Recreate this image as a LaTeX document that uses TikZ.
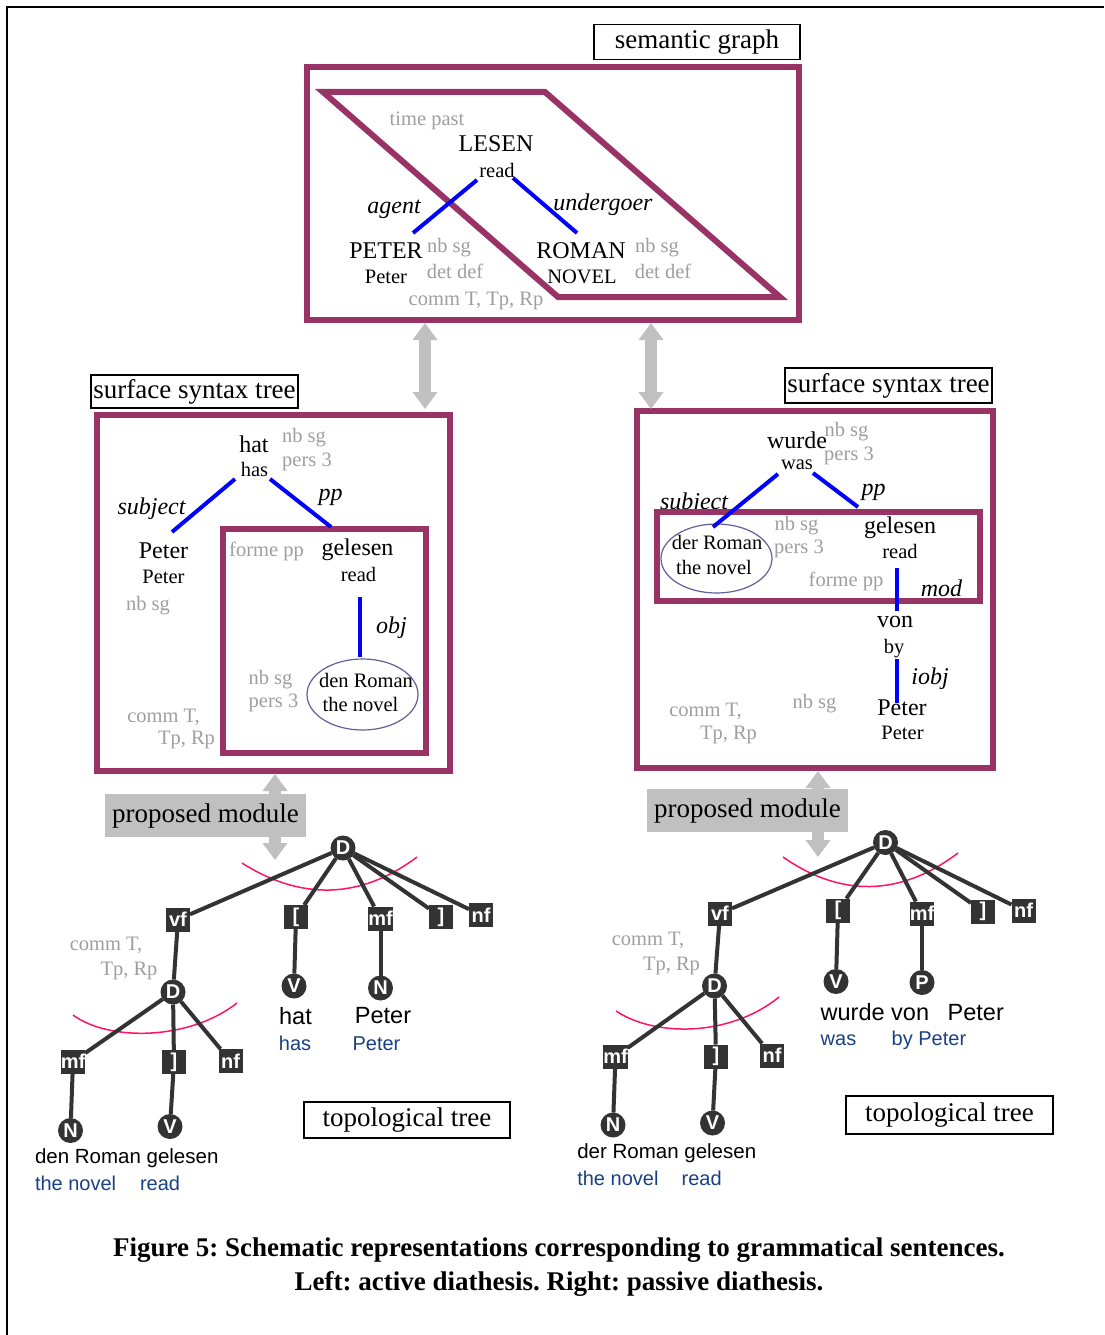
\documentclass[tikz,border=0pt]{standalone}
\usepackage{fontspec}
\setmainfont{Liberation Serif}
\setsansfont{Liberation Sans}
\usetikzlibrary{arrows.meta,shapes.geometric}
\definecolor{semmaroon}{RGB}{153,51,102}
\definecolor{greyc}{RGB}{158,158,158}
\definecolor{arrgrey}{RGB}{192,192,192}
\definecolor{topoc}{RGB}{51,51,51}
\definecolor{arcpink}{RGB}{255,20,100}
\definecolor{glossc}{RGB}{25,65,130}
\definecolor{ellc}{RGB}{95,95,155}
\frenchspacing
\begin{document}
\begin{tikzpicture}[x=1pt,y=-1pt,
  every node/.style={inner sep=0pt,outer sep=0pt},
  bigt/.style={font=\fontsize{24}{24}\selectfont},
  smt/.style={font=\fontsize{20.5}{20.5}\selectfont},
  gt/.style={smt,text=greyc},
  rolet/.style={font=\fontsize{24}{24}\selectfont\itshape},
  lbox/.style={draw,line width=1.8pt,font=\fontsize{27}{27}\selectfont,minimum width=206pt,minimum height=35pt},
  mframe/.style={draw=semmaroon,line width=6pt},
  rel/.style={draw=blue,line width=4pt},
  garrow/.style={line width=12.5pt,draw=arrgrey,{Triangle[width=24pt,length=17pt]}-{Triangle[width=24pt,length=17pt]}},
  modbox/.style={fill=arrgrey,font=\fontsize{27}{27}\selectfont,minimum width=201pt,minimum height=43pt},
  tnode/.style={circle,fill=topoc,text=white,font=\sffamily\bfseries\fontsize{20}{20}\selectfont,minimum size=25pt},
  tsq/.style={rectangle,fill=topoc,text=white,font=\sffamily\bfseries\fontsize{20}{20}\selectfont,minimum size=24pt},
  tedge/.style={draw=topoc,line width=4pt},
  parc/.style={draw=arcpink,line width=1.5pt},
  twb/.style={font=\sffamily\fontsize{23.5}{23.5}\selectfont},
  tws/.style={font=\sffamily\fontsize{20.5}{20.5}\selectfont},
  tg/.style={font=\sffamily\fontsize{20}{20}\selectfont,text=glossc},
  ell/.style={ellipse,draw=ellc,line width=1.2pt},
  capt/.style={font=\fontsize{27}{27}\selectfont\bfseries}
]
\useasboundingbox (0,0) rectangle (1104,1335);
\draw[line width=2pt] (1104,7) -- (7,7) -- (7,1335);

% ---------- semantic graph texts ----------
\node[gt] (tpast) at (427,121) {time past};
\node[bigt] (lesen) at (496,144) {LESEN};
\node[smt] (lesenr) at (497,170) {read};
\node[rolet] (agent) at (394,209) {agent};
\node[rolet] (undg) at (603,205) {undergoer};
\node[bigt] (peterS) at (386,251) {PETER};
\node[smt] (peterSg) at (386,276.5) {Peter};
\node[gt] (pnb) at (449,248) {nb sg};
\node[gt] (pdet) at (455,271) {det def};
\node[bigt] (roman) at (581,251) {ROMAN};
\node[smt] (novel) at (582,276.5) {NOVEL};
\node[gt] (rnb) at (657,248) {nb sg};
\node[gt] (rdet) at (663,271) {det def};
\node[gt] (scomm) at (476,301) {comm T, Tp, Rp};

% ---------- left syntax texts ----------
\node[bigt] (hat) at (254,444) {hat};
\node[smt] (has) at (254.5,469) {has};
\node[gt] (hnb) at (304,437.5) {nb sg};
\node[gt] (hpers) at (307,462) {pers 3};
\node[rolet] (subjL) at (151.5,509) {subject};
\node[rolet] (ppL) at (330.5,497) {pp};
\node[bigt] (peterL) at (163.5,551) {Peter};
\node[smt] (peterLg) at (163.5,576.5) {Peter};
\node[gt] (peterLnb) at (148,605.5) {nb sg};
\node[gt] (formeL) at (266.5,551) {forme pp};
\node[bigt] (gelL) at (357.5,549.5) {gelesen};
\node[smt] (gelLg) at (358.5,574) {read};
\node[rolet] (objL) at (391.5,628) {obj};
\node[gt] (rnbL) at (270.5,679.5) {nb sg};
\node[gt] (rpersL) at (273.5,703) {pers 3};
\node[ell,minimum width=111pt,minimum height=71pt] (ellL) at (362.5,694.5) {};
\node[smt] (romL) at (366,680) {den Roman};
\node[smt] (romLg) at (360.5,704) {the novel};
\node[gt] (commL1) at (163.5,717) {comm T,};
\node[gt] (commL2) at (186.5,740) {Tp, Rp};

% ---------- right syntax texts ----------
\node[bigt] (wurde) at (797,440) {wurde};
\node[smt] (was) at (797,465) {was};
\node[gt] (wnb) at (846.5,432) {nb sg};
\node[gt] (wpers) at (849,455.5) {pers 3};
\node[rolet] (subjR) at (694,504) {subject};
\node[rolet] (ppR) at (873.5,492) {pp};
\node[ell,minimum width=111pt,minimum height=69pt] (ellR) at (716.5,558.5) {};
\node[smt] (romR) at (717,542) {der Roman};
\node[smt] (romRg) at (714,567) {the novel};
\node[gt] (rnbR) at (796.5,525.5) {nb sg};
\node[gt] (rpersR) at (799,549) {pers 3};
\node[bigt] (gelR) at (900,528) {gelesen};
\node[smt] (gelRg) at (900,551.5) {read};
\node[gt] (formeR) at (846,581.5) {forme pp};
\node[rolet] (modR) at (941.5,588.5) {mod};
\node[bigt] (von) at (895,622) {von};
\node[smt] (by) at (894,648.5) {by};
\node[rolet] (iobjR) at (930,678.5) {iobj};
\node[bigt] (peterR) at (902,707.5) {Peter};
\node[smt] (peterRg) at (902.5,732.5) {Peter};
\node[gt] (peterRnb) at (814.5,703.5) {nb sg};
\node[gt] (commR1) at (705.5,711.5) {comm T,};
\node[gt] (commR2) at (728.5,735) {Tp, Rp};

% ---------- frames ----------
\node[mframe,minimum width=492pt,minimum height=253pt] (semF) at (553,193.5) {};
\draw[mframe,line join=miter] (323,92) -- (545,92) -- (780,297) -- (558,297) -- cycle;
\node[mframe,minimum width=353pt,minimum height=356pt] (synL) at (273.5,593) {};
\node[mframe,minimum width=203pt,minimum height=224pt] (synLin) at (324.5,641) {};
\node[mframe,minimum width=356pt,minimum height=357pt] (synR) at (815,589.5) {};
\node[mframe,minimum width=323pt,minimum height=89pt] (synRin) at (818.5,556) {};

% ---------- title boxes ----------
\node[lbox] (tSem) at (697,42) {semantic graph};
\node[lbox,minimum width=207pt,minimum height=33pt] (tSynL) at (194.5,391.5) {surface syntax tree};
\node[lbox,minimum width=207pt] (tSynR) at (888.5,385.5) {surface syntax tree};
\node[lbox,minimum height=36pt] (tTopL) at (407,1120) {topological tree};
\node[lbox,minimum width=207pt,minimum height=38pt] (tTopR) at (949.5,1115) {topological tree};

% ---------- blue relations ----------
\coordinate (s1a) at (477,180); \coordinate (s1b) at (413,233);
\coordinate (s2a) at (513,178); \coordinate (s2b) at (577,233);
\draw[rel] (s1a) -- (s1b);
\draw[rel] (s2a) -- (s2b);
\coordinate (l1a) at (235,479); \coordinate (l1b) at (172,532);
\coordinate (l2a) at (270,479); \coordinate (l2b) at (331,527);
\coordinate (l3a) at (360,597); \coordinate (l3b) at (360,657);
\draw[rel] (l1a) -- (l1b);
\draw[rel] (l2a) -- (l2b);
\draw[rel] (l3a) -- (l3b);
\coordinate (r1a) at (778,474); \coordinate (r1b) at (713,527);
\coordinate (r2a) at (813,473); \coordinate (r2b) at (858,507);
\coordinate (r3a) at (897,568); \coordinate (r3b) at (897,611);
\coordinate (r4a) at (897,659); \coordinate (r4b) at (897,703);
\draw[rel] (r1a) -- (r1b);
\draw[rel] (r2a) -- (r2b);
\draw[rel] (r3a) -- (r3b);
\draw[rel] (r4a) -- (r4b);

% ---------- grey double arrows ----------
\coordinate (g1a) at (425,323); \coordinate (g1b) at (425,409);
\coordinate (g2a) at (651,323); \coordinate (g2b) at (651,409);
\draw[garrow] (g1a) -- (g1b);
\draw[garrow] (g2a) -- (g2b);
\coordinate (g3a) at (275,774); \coordinate (g3b) at (275,860);
\coordinate (g4a) at (818,771); \coordinate (g4b) at (818,857);
\draw[garrow] (g3a) -- (g3b);
\draw[garrow] (g4a) -- (g4b);
\node[modbox] (pmL) at (205.5,815.5) {proposed module};
\node[modbox] (pmR) at (747.5,810.5) {proposed module};

% ---------- pink arcs ----------
\coordinate (pa1) at (242,863); \coordinate (pa2) at (417,857);
\draw[parc] (pa1) .. controls (300,900) and (360,900) .. (pa2);
\coordinate (pb1) at (73,1015); \coordinate (pb2) at (237,1003);
\draw[parc] (pb1) .. controls (110,1042) and (190,1040) .. (pb2);
\coordinate (pc1) at (783,857); \coordinate (pc2) at (958,853);
\draw[parc] (pc1) .. controls (840,897) and (900,897) .. (pc2);
\coordinate (pd1) at (616,1011); \coordinate (pd2) at (779,997);
\draw[parc] (pd1) .. controls (655,1037) and (730,1037) .. (pd2);

% ---------- left topological tree ----------
\node[tnode] (LD) at (343,848) {D};
\node[tsq] (Lvf) at (178,919.5) {vf};
\node[tsq] (Lob) at (296,917) {[};
\node[tsq] (Lmf) at (380.5,918.5) {mf};
\node[tsq] (Lcb) at (441,917) {]};
\node[tsq] (Lnf) at (481,915) {nf};
\node[tnode] (LD2) at (173,992) {D};
\node[tnode] (LV) at (294,986) {V};
\node[tnode] (LN) at (380.5,988) {N};
\node[tsq] (Lmf2) at (73,1061.5) {mf};
\node[tsq] (Lcb2) at (174,1062) {]};
\node[tsq] (Lnf2) at (230.5,1061) {nf};
\node[tnode] (LN2) at (70.5,1130.5) {N};
\node[tnode] (LV2) at (170,1126.5) {V};
\foreach \t in {Lvf,Lob,Lmf,Lcb,Lnf} \draw[tedge] (LD) -- (\t);
\draw[tedge] (Lvf) -- (LD2);
\draw[tedge] (Lob) -- (LV);
\draw[tedge] (Lmf) -- (LN);
\foreach \t in {Lmf2,Lcb2,Lnf2} \draw[tedge] (LD2) -- (\t);
\draw[tedge] (Lmf2) -- (LN2);
\draw[tedge] (Lcb2) -- (LV2);
\node[gt] (tcL1) at (106,945.5) {comm T,};
\node[gt] (tcL2) at (129,971) {Tp, Rp};
\node[twb] (Lhat) at (295.5,1016.5) {hat};
\node[tg] (Lhas) at (295,1043.5) {has};
\node[twb] (Lpet) at (383,1016) {Peter};
\node[tg] (Lpetg) at (376.5,1043.5) {Peter};
\node[tws,anchor=west] (Lden) at (35,1158) {den Roman gelesen};
\node[tg,anchor=west] (Ldeng) at (35,1183) {the novel};
\node[tg,anchor=west] (Lgelg) at (140,1183) {read};

% ---------- right topological tree ----------
\node[tnode] (RD) at (885.5,842.5) {D};
\node[tsq] (Rvf) at (720,913.5) {vf};
\node[tsq] (Rob) at (838,910.5) {[};
\node[tsq] (Rmf) at (922,913.5) {mf};
\node[tsq] (Rcb) at (983,911.5) {]};
\node[tsq] (Rnf) at (1023.5,910.5) {nf};
\node[tnode] (RD2) at (714.5,986) {D};
\node[tnode] (RV) at (836,981.5) {V};
\node[tnode] (RP) at (922,982.5) {P};
\node[tsq] (Rmf2) at (615.5,1056.5) {mf};
\node[tsq] (Rcb2) at (716,1056.5) {]};
\node[tsq] (Rnf2) at (772,1055.5) {nf};
\node[tnode] (RN2) at (613,1125) {N};
\node[tnode] (RV2) at (712.5,1123) {V};
\foreach \t in {Rvf,Rob,Rmf,Rcb,Rnf} \draw[tedge] (RD) -- (\t);
\draw[tedge] (Rvf) -- (RD2);
\draw[tedge] (Rob) -- (RV);
\draw[tedge] (Rmf) -- (RP);
\foreach \t in {Rmf2,Rcb2,Rnf2} \draw[tedge] (RD2) -- (\t);
\draw[tedge] (Rmf2) -- (RN2);
\draw[tedge] (Rcb2) -- (RV2);
\node[gt] (tcR1) at (648,940.5) {comm T,};
\node[gt] (tcR2) at (671.5,966) {Tp, Rp};
\node[twb,anchor=west] (Rwv) at (820.7,1012.5) {wurde von};
\node[twb,anchor=west] (Rpet) at (947.7,1012.5) {Peter};
\node[tg,anchor=west] (Rwas) at (820.7,1040) {was};
\node[tg,anchor=west] (Rby) at (891.7,1040) {by Peter};
\node[tws,anchor=west] (Rder) at (577.3,1153.5) {der Roman gelesen};
\node[tg,anchor=west] (Rderg) at (577.3,1178) {the novel};
\node[tg,anchor=west] (Rgelg) at (681.7,1178) {read};

% ---------- caption ----------
\node[capt] (cap1) at (559,1250) {Figure 5: Schematic representations corresponding to grammatical sentences.};
\node[capt] (cap2) at (559,1284) {Left: active diathesis. Right: passive diathesis.};
\end{tikzpicture}
\end{document}
